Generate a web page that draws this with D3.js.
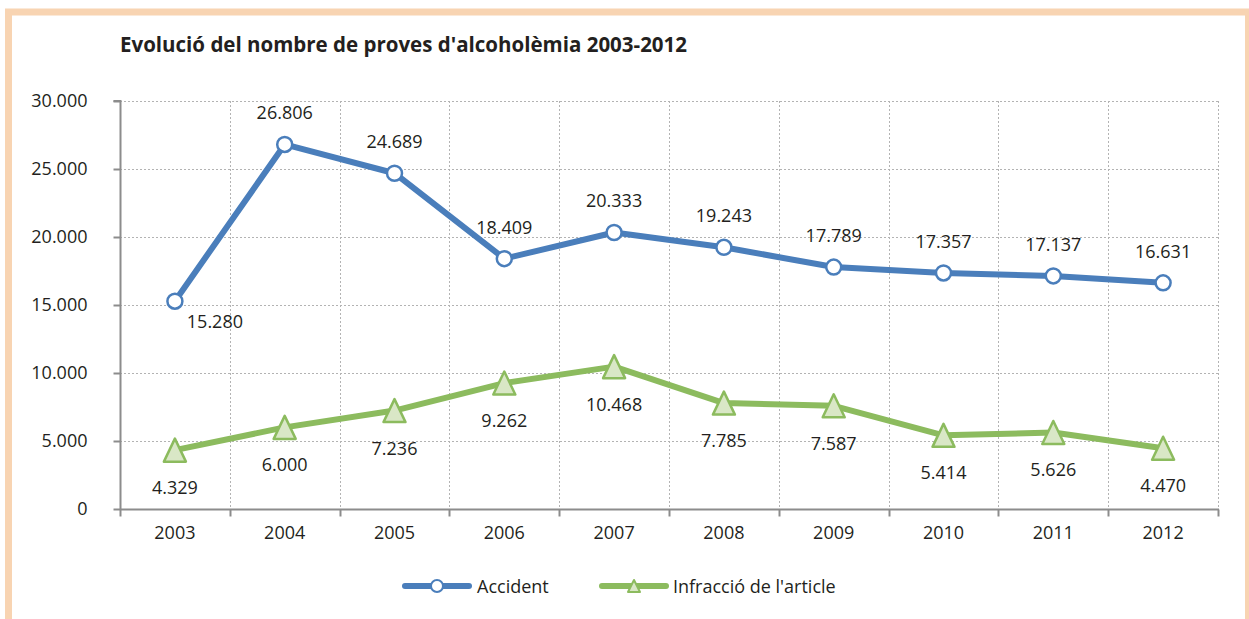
<!DOCTYPE html>
<html>
<head>
<meta charset="utf-8">
<script src="https://cdn.jsdelivr.net/npm/d3@7"></script>
<style>
  body { margin: 0; background: #fff; }
  text { font-family: "Open Sans", "Noto Sans", sans-serif; fill: #231f20; }
</style>
</head>
<body>
<div id="chart"></div>
<script>
const years = ["2003", "2004", "2005", "2006", "2007", "2008", "2009", "2010", "2011", "2012"];
const accident = [15280, 26806, 24689, 18409, 20333, 19243, 17789, 17357, 17137, 16631];
const infraccio = [4329, 6000, 7236, 9262, 10468, 7785, 7587, 5414, 5626, 4470];
const yTicks = [0, 5000, 10000, 15000, 20000, 25000, 30000];

const W = 1249, H = 619;
const pLeft = 120, pRight = 1218, pTop = 101, pBottom = 509;
const blue = "#4a7ebb", green = "#8cbb5e", triFill = "#d9e7c6";
const fs = 18;

const fmt = v => d3.format(",")(v).replace(/,/g, ".");

const svg = d3.select("#chart").append("svg")
  .attr("width", W).attr("height", H).style("display", "block");

// peach frame
svg.append("rect")
  .attr("x", 8.5).attr("y", 12).attr("width", 1240).attr("height", 640)
  .attr("fill", "none").attr("stroke", "#f8d4b2").attr("stroke-width", 7);

svg.append("text")
  .attr("x", 120).attr("y", 52)
  .attr("font-size", 20.5).attr("font-weight", "bold")
  .text("Evolució del nombre de proves d'alcoholèmia 2003-2012");

const x = d3.scaleBand().domain(years).range([pLeft, pRight]);
const y = d3.scaleLinear().domain([0, 30000]).range([pBottom, pTop]);

// grid
const grid = svg.append("g")
  .attr("stroke", "#b3b3b3").attr("stroke-width", 1).attr("stroke-dasharray", "2,2");
grid.selectAll("line.h").data(yTicks.filter(d => d > 0)).join("line")
  .attr("x1", pLeft).attr("x2", pRight)
  .attr("y1", d => Math.round(y(d)) + 0.5).attr("y2", d => Math.round(y(d)) + 0.5);
grid.selectAll("line.v").data(years.slice(1).concat(["end"])).join("line")
  .attr("x1", d => Math.round(d === "end" ? pRight : x(d)) + 0.5)
  .attr("x2", d => Math.round(d === "end" ? pRight : x(d)) + 0.5)
  .attr("y1", pTop).attr("y2", pBottom);

// axes
const yAxis = svg.append("g")
  .attr("transform", `translate(${pLeft + 0.5},0)`)
  .call(d3.axisLeft(y).tickValues(yTicks).tickSize(7).tickPadding(26)
    .tickFormat(fmt));
yAxis.select(".domain").attr("stroke", "#8c8c8c").attr("stroke-width", 2)
  .attr("d", `M-7,${pTop}H0V${pBottom}`);
yAxis.selectAll(".tick line").attr("stroke", "#8c8c8c").attr("stroke-width", 2);
yAxis.selectAll(".tick text").attr("font-size", fs).attr("fill", "#231f20")
  .attr("font-family", "\"Open Sans\", sans-serif");

const xAxis = svg.append("g")
  .attr("transform", `translate(0,${pBottom + 0.5})`)
  .call(d3.axisBottom(x).tickSize(0).tickPadding(15));
xAxis.select(".domain").remove();
xAxis.append("line").attr("x1", pLeft).attr("x2", pRight + 1)
  .attr("stroke", "#8c8c8c").attr("stroke-width", 2);
xAxis.selectAll("line.tk").data(years.map(d => x(d)).concat([pRight])).join("line")
  .attr("class", "tk")
  .attr("x1", d => Math.round(d) + 0.5).attr("x2", d => Math.round(d) + 0.5)
  .attr("y1", 0).attr("y2", 7)
  .attr("stroke", "#8c8c8c").attr("stroke-width", 2);
xAxis.selectAll(".tick text").attr("font-size", fs).attr("fill", "#231f20")
  .attr("font-family", "\"Open Sans\", sans-serif").attr("dy", "0.8em");

const cx = d => x(d) + x.bandwidth() / 2;
const line = d3.line().x((d, i) => cx(years[i])).y(d => y(d));
const triPath = (h, w) => `M0,${-h}L${w},${h}L${-w},${h}Z`;

// green series
svg.append("path").datum(infraccio)
  .attr("fill", "none").attr("stroke", green).attr("stroke-width", 6)
  .attr("stroke-linejoin", "round").attr("d", line);
svg.selectAll("path.tri").data(infraccio).join("path")
  .attr("class", "tri")
  .attr("transform", (d, i) => `translate(${cx(years[i])},${y(d)})`)
  .attr("d", triPath(11.5, 11)).attr("fill", triFill)
  .attr("stroke", green).attr("stroke-width", 2.5).attr("stroke-linejoin", "round");
svg.selectAll("text.lg").data(infraccio).join("text")
  .attr("class", "lg")
  .attr("x", (d, i) => cx(years[i])).attr("y", d => y(d) + 44)
  .attr("text-anchor", "middle").attr("font-size", fs)
  .text(fmt);

// blue series
svg.append("path").datum(accident)
  .attr("fill", "none").attr("stroke", blue).attr("stroke-width", 6)
  .attr("stroke-linejoin", "round").attr("d", line);
svg.selectAll("circle.pt").data(accident).join("circle")
  .attr("class", "pt")
  .attr("cx", (d, i) => cx(years[i])).attr("cy", d => y(d))
  .attr("r", 7.5).attr("fill", "#fff").attr("stroke", blue).attr("stroke-width", 2.5);
svg.selectAll("text.lb").data(accident).join("text")
  .attr("class", "lb")
  .attr("x", (d, i) => cx(years[i]) + (i === 0 ? 40 : 0))
  .attr("y", (d, i) => y(d) + (i === 0 ? 27 : -25))
  .attr("text-anchor", "middle").attr("font-size", fs)
  .text(fmt);

// legend
const leg = svg.append("g").attr("transform", "translate(0,586)");
leg.append("line").attr("x1", 405).attr("x2", 469)
  .attr("stroke", blue).attr("stroke-width", 6).attr("stroke-linecap", "round");
leg.append("circle").attr("cx", 437).attr("cy", 0).attr("r", 6)
  .attr("fill", "#fff").attr("stroke", blue).attr("stroke-width", 2);
leg.append("text").attr("x", 477).attr("y", 6.5).attr("font-size", fs).text("Accident");
leg.append("line").attr("x1", 602).attr("x2", 666)
  .attr("stroke", green).attr("stroke-width", 6).attr("stroke-linecap", "round");
leg.append("path").attr("transform", "translate(634,0)")
  .attr("d", triPath(6, 6)).attr("fill", triFill)
  .attr("stroke", green).attr("stroke-width", 2).attr("stroke-linejoin", "round");
leg.append("text").attr("x", 673).attr("y", 6.5).attr("font-size", fs).text("Infracció de l'article");
</script>
</body>
</html>
